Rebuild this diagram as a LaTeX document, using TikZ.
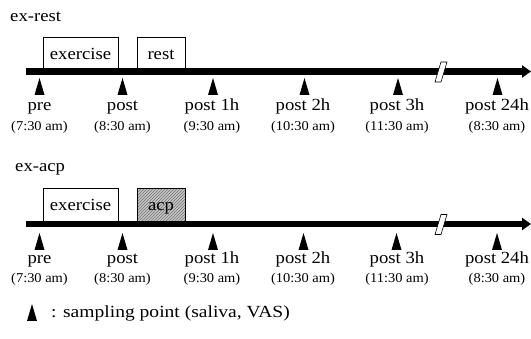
\documentclass[tikz,border=0pt]{standalone}
\usepackage{fontspec}
\setmainfont{Liberation Serif}
\newfontfamily\wserif[FakeStretch=1.1]{Liberation Serif}
\newfontfamily\wwserif[FakeStretch=1.15]{Liberation Serif}
\newfontfamily\tserif[FakeStretch=1.07]{Liberation Serif}
\usetikzlibrary{arrows.meta,patterns}
\begin{document}
\begin{tikzpicture}[x=1pt,y=-1pt,
  tline/.style={line width=6.5pt,-{Triangle[length=9pt,width=12pt]}},
  lbl/.style={font=\wserif\fontsize{17}{18}\selectfont,inner sep=0pt,anchor=base},
  tlbl/.style={font=\tserif\fontsize{13.5}{15}\selectfont,inner sep=0pt,anchor=base},
  boxw/.style={draw,line width=0.8pt,fill=white},
  boxh/.style={draw,line width=0.8pt,preaction={fill=gray!45},pattern=north east lines,pattern color=gray!90!black},
  ttl/.style={font=\wserif\fontsize{17}{18}\selectfont,inner sep=0pt,anchor=base west},
  leglbl/.style={font=\wwserif\fontsize{17}{18}\selectfont,inner sep=0pt,anchor=base west},
  brk/.style={draw,line width=0.6pt,fill=white}
]
\useasboundingbox (0,0) rectangle (531,339);
\newcommand{\samptri}[2]{\fill (#1-5,#2+17) -- (#1,#2) -- (#1+5,#2+17) -- cycle;}
% ---------- top panel ----------
\node[ttl] (t1) at (10,22) {ex-rest};
\draw[boxw] (43,37.5) rectangle (118.5,69);
\node[lbl] (ex1) at (80.5,60) {exercise};
\draw[boxw] (137.5,37.5) rectangle (185,69);
\node[lbl] (r1) at (161,60) {rest};
\coordinate (s1) at (26,71.5);
\coordinate (e1) at (531,71.5);
\draw[tline] (s1) -- (e1);
\draw[brk] (435,82) -- (441,62) -- (447,62) -- (441,82) -- cycle;
\fill[white] (436.5,80) -- (441.7,63.5) -- (445.5,63.5) -- (440.3,80) -- cycle;
\foreach \x in {39.5,122.5,213,304.5,398,497.5}{\samptri{\x}{78}}
\foreach \x/\n/\t/\nm in {39.5/pre/(7:30 am)/a,122.5/post/(8:30 am)/b,212/post 1h/(9:30 am)/c,303/post 2h/(10:30 am)/d,397/post 3h/(11:30 am)/e,497/post 24h/(8:30 am)/f}{
  \node[lbl] (n1\nm) at (\x,111) {\n};
  \node[tlbl] (tm1\nm) at (\x,131) {\t};
}
% ---------- bottom panel ----------
\node[ttl] (t2) at (15,172) {ex-acp};
\draw[boxw] (43,188.5) rectangle (118.5,221);
\node[lbl] (ex2) at (80.5,211) {exercise};
\draw[boxh] (137.5,188.5) rectangle (185,221);
\node[lbl] (r2) at (161,211) {acp};
\coordinate (s2) at (26,224);
\coordinate (e2) at (531,224);
\draw[tline] (s2) -- (e2);
\draw[brk] (435,234.5) -- (441,214.5) -- (447,214.5) -- (441,234.5) -- cycle;
\fill[white] (436.5,232.5) -- (441.7,216) -- (445.5,216) -- (440.3,232.5) -- cycle;
\foreach \x in {39.5,122.5,213,303.5,396.5,497}{\samptri{\x}{233}}
\foreach \x/\n/\t/\nm in {39.5/pre/(7:30 am)/a,122.5/post/(8:30 am)/b,212/post 1h/(9:30 am)/c,303/post 2h/(10:30 am)/d,397/post 3h/(11:30 am)/e,497/post 24h/(8:30 am)/f}{
  \node[lbl] (n2\nm) at (\x,264) {\n};
  \node[tlbl] (tm2\nm) at (\x,283) {\t};
}
% ---------- legend ----------
\samptri{32}{304}
\node[leglbl] (leg) at (51,318) {: sampling point (saliva, VAS)};
\end{tikzpicture}
\end{document}
